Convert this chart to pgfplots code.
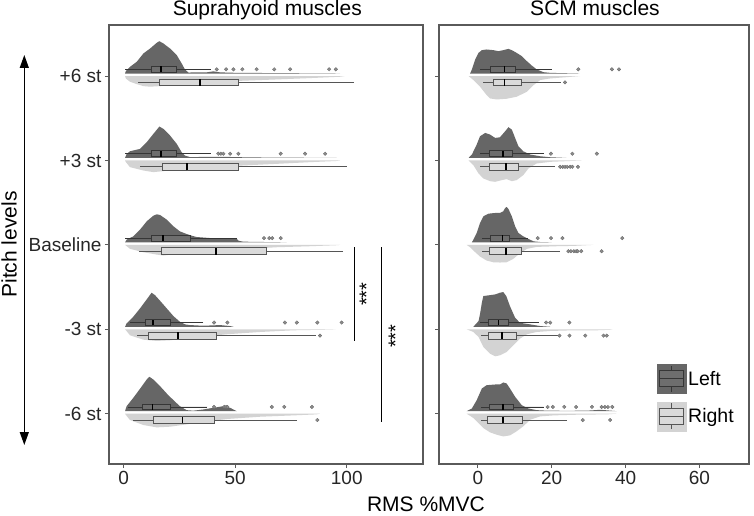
\documentclass[border=0pt]{standalone}
\usepackage{fontspec}
\setmainfont{Liberation Sans}
\usepackage{pgfplots}
\pgfplotsset{compat=1.18}
\usepgfplotslibrary{statistics}
\usetikzlibrary{arrows.meta}

\definecolor{darkv}{HTML}{666666}
\definecolor{lightv}{HTML}{D3D3D3}
\definecolor{boxLfill}{HTML}{6E6E6E}
\definecolor{boxLdraw}{HTML}{363636}
\definecolor{boxRfill}{HTML}{DADADA}
\definecolor{boxRdraw}{HTML}{555555}
\definecolor{outl}{HTML}{8C8C8C}
\definecolor{frame}{HTML}{5A5A5A}

\pgfplotsset{
  dv/.style={fill=darkv, draw=none, forget plot},
  lv/.style={fill=lightv, draw=none, forget plot},
  bL/.style={forget plot, draw=boxLdraw, fill=boxLfill, line width=0.8pt,
    mark=*, mark size=1.8pt, mark options={draw=gray!80!black, fill=outl, line width=0.3pt},
    boxplot/box extend=0.068, boxplot/whisker extend=0,
    boxplot/every median/.style={draw=black, line width=1.8pt}},
  bR/.style={forget plot, draw=boxRdraw, fill=boxRfill, line width=0.8pt,
    mark=*, mark size=1.8pt, mark options={draw=gray!80!black, fill=outl, line width=0.3pt},
    boxplot/box extend=0.082, boxplot/whisker extend=0,
    boxplot/every median/.style={draw=black, line width=1.8pt}},
  common/.style={scale only axis, height=439pt, ymin=0.404, ymax=5.605,
    ytick={1,2,3,4,5},
    axis line style={draw=frame, line width=1.1pt},
    tick style={draw=frame, line width=0.9pt},
    tick align=outside, major tick length=4pt, tick pos=left,
    tick label style={font=\fontsize{19}{21}\selectfont, text=black!85},
    /pgf/number format/assume math mode=true},
}

\begin{document}
\begin{tikzpicture}
\useasboundingbox (-109pt,-51pt) rectangle (645pt,464pt);

% ================= LEFT PANEL: Suprahyoid =================
\begin{axis}[common, width=314pt, at={(0pt,0pt)}, anchor=south west,
  xmin=-6.6, xmax=134.2, xtick={0,50,100},
  yticklabels={-6 st,-3 st,Baseline,+3 st,+6 st}]

% ---- +6 st (y=5)
\addplot[dv] table[y expr=\thisrowno{1}+5.03] {
x h
0.6 0
1.0 0.032
2.8 0.079
5.8 0.138
8.8 0.237
11.8 0.296
14.8 0.364
16.0 0.383
17.8 0.356
20.8 0.296
23.8 0.217
26.0 0.119
27.5 0.047
29.0 0.012
37.2 0.014
40.2 0.026
43.2 0.014
50.7 0.008
64.1 0.006
97.0 0
};
\addplot[lv] table[y expr=5-\thisrowno{1}] {
x h
0.6 0
1.0 0.030
2.8 0.067
5.8 0.095
8.8 0.119
11.8 0.126
16.3 0.119
23.8 0.099
31.2 0.087
38.7 0.071
53.6 0.055
68.6 0.040
83.5 0.024
97.0 0.008
99.0 0
};
% ---- +3 st (y=4)
\addplot[dv] table[y expr=\thisrowno{1}+4.03] {
x h
0.6 0
1.3 0.047
2.8 0.079
7.3 0.107
10.3 0.186
13.3 0.285
16.0 0.372
17.8 0.344
20.8 0.265
23.8 0.166
26.0 0.067
27.5 0.028
29.7 0.010
43.2 0.014
56.6 0.006
95.5 0
};
\addplot[lv] table[y expr=4-\thisrowno{1}] {
x h
0.6 0
1.0 0.020
2.8 0.079
8.8 0.119
13.3 0.138
17.8 0.126
23.8 0.107
38.7 0.079
53.6 0.059
68.6 0.040
83.5 0.020
95.5 0.006
97.0 0
};
% ---- Baseline (y=3)
\addplot[dv] table[y expr=\thisrowno{1}+3.03] {
x h
0.6 0
1.3 0.032
4.3 0.071
7.3 0.150
10.3 0.249
13.3 0.316
14.8 0.332
16.3 0.324
19.3 0.269
22.3 0.190
25.2 0.130
28.2 0.099
30.5 0.079
32.7 0.063
38.7 0.051
50.7 0.043
51.4 0.020
53.6 0.008
73.1 0
};
\addplot[lv] table[y expr=3-\thisrowno{1}] {
x h
0.6 0
1.0 0.008
2.8 0.047
8.8 0.087
14.8 0.115
17.8 0.126
23.8 0.107
38.7 0.075
53.6 0.051
68.6 0.028
83.5 0.016
95.5 0.004
97.0 0
};
% ---- -3 st (y=2)
\addplot[dv] table[y expr=\thisrowno{1}+2.03] {
x h
0.6 0
1.3 0.040
4.3 0.119
7.3 0.217
10.3 0.324
12.5 0.403
14.0 0.375
16.3 0.308
19.3 0.217
22.3 0.126
25.2 0.059
27.5 0.028
29.7 0.020
35.7 0.012
43.2 0.020
47.7 0.008
49.2 0
};
\addplot[lv] table[y expr=2-\thisrowno{1}] {
x h
0.6 0
1.0 0.012
2.8 0.071
8.8 0.123
14.8 0.138
20.8 0.130
31.2 0.099
46.2 0.059
61.1 0.032
76.1 0.012
93.3 0.004
95.0 0
};
% ---- -6 st (y=1)
\addplot[dv] table[y expr=\thisrowno{1}+1.03] {
x h
0.6 0
1.3 0.059
4.3 0.158
7.3 0.265
10.3 0.375
11.5 0.407
13.3 0.375
16.3 0.296
19.3 0.209
22.3 0.130
25.2 0.059
28.2 0.012
31.2 0.006
35.7 0.020
40.2 0.040
44.7 0.059
47.7 0.040
50.7 0
};
\addplot[lv] table[y expr=1-\thisrowno{1}] {
x h
0.6 0
1.0 0.016
2.8 0.075
8.8 0.134
14.8 0.162
20.8 0.154
31.2 0.115
46.2 0.063
61.1 0.036
76.1 0.020
86.5 0.008
88.0 0
};

% ---- boxplots
\addplot[bL, boxplot prepared={draw position=5.08, lower whisker=0.6, lower quartile=12.6, median=16.7, upper quartile=23.8, upper whisker=39}]
  coordinates {(0,41.7) (0,45.9) (0,49.2) (0,53.2) (0,59.6) (0,67.5) (0,74.6) (0,92.1) (0,95.1)};
\addplot[bR, boxplot prepared={draw position=4.925, lower whisker=6.6, lower quartile=15.8, median=34.2, upper quartile=51.4, upper whisker=103.4}]
  coordinates {};
\addplot[bL, boxplot prepared={draw position=4.08, lower whisker=0.6, lower quartile=12.6, median=16.7, upper quartile=23.8, upper whisker=39}]
  coordinates {(0,42.4) (0,43.6) (0,44.7) (0,47.7) (0,51.4) (0,70.4) (0,81.3) (0,90.3)};
\addplot[bR, boxplot prepared={draw position=3.925, lower whisker=7.3, lower quartile=17.5, median=28.5, upper quartile=51.4, upper whisker=100}]
  coordinates {};
\addplot[bL, boxplot prepared={draw position=3.08, lower whisker=0.6, lower quartile=12.6, median=17.5, upper quartile=29.7, upper whisker=50.7}]
  coordinates {(0,62.9) (0,65.3) (0,66.6) (0,70.4)};
\addplot[bR, boxplot prepared={draw position=2.925, lower whisker=7.0, lower quartile=17.0, median=41.4, upper quartile=63.8, upper whisker=98.5}]
  coordinates {};
\addplot[bL, boxplot prepared={draw position=2.08, lower whisker=2.8, lower quartile=9.9, median=13.3, upper quartile=20.8, upper whisker=35.7}]
  coordinates {(0,40.5) (0,46.5) (0,72.3) (0,77.6) (0,86.8) (0,97.7)};
\addplot[bR, boxplot prepared={draw position=1.925, lower whisker=5.8, lower quartile=11.1, median=24.2, upper quartile=41.7, upper whisker=86.2}]
  coordinates {(0,88.0)};
\addplot[bL, boxplot prepared={draw position=1.08, lower whisker=2.1, lower quartile=8.4, median=12.9, upper quartile=20.8, upper whisker=37.5}]
  coordinates {(0,40.5) (0,45.1) (0,45.9) (0,46.5) (0,66.4) (0,72.0) (0,84.4)};
\addplot[bR, boxplot prepared={draw position=0.925, lower whisker=4.0, lower quartile=13.3, median=26.4, upper quartile=40.6, upper whisker=77.6}]
  coordinates {(0,86.8)};

% ---- significance
\addplot[black, line width=0.8pt, forget plot] coordinates {(103.3,2.97) (103.3,1.86)};
\addplot[black, line width=0.8pt, forget plot] coordinates {(115.4,2.97) (115.4,0.898)};
\node[rotate=90, font=\fontsize{20}{20}\selectfont] at (axis cs:108.9,2.416) {***};
\node[rotate=90, font=\fontsize{20}{20}\selectfont] at (axis cs:121.9,1.919) {***};
\end{axis}

% ================= RIGHT PANEL: SCM =================
\begin{axis}[common, width=310pt, at={(330pt,0pt)}, anchor=south west,
  xmin=-10.5, xmax=73.4, xtick={0,20,40,60},
  yticklabels={},
  legend style={at={(0.702,0.228)}, anchor=north west, draw=none, fill=none,
    inner sep=0pt, row sep=8pt, font=\fontsize{19.5}{21}\selectfont,
    /tikz/every even column/.append style={column sep=5pt}},
  legend cell align=left]

% ---- +6 st
\addplot[dv] table[y expr=\thisrowno{1}+5.03] {
x h
-2.1 0
-1.6 0.047
-0.7 0.166
0.2 0.245
1.1 0.277
2.4 0.285
4.2 0.277
5.6 0.265
6.9 0.277
8.3 0.292
9.2 0.277
10.5 0.245
11.9 0.206
13.3 0.146
14.6 0.095
16.0 0.047
17.8 0.016
19.6 0.008
27.5 0
};
\addplot[lv] table[y expr=5-\thisrowno{1}] {
x h
-2.5 0
-1.2 0.047
0.6 0.126
2.4 0.225
3.3 0.265
5.1 0.277
7.8 0.269
10.5 0.245
13.3 0.186
15.1 0.107
16.9 0.047
19.6 0.028
23.2 0.016
27.7 0
};
% ---- +3 st
\addplot[dv] table[y expr=\thisrowno{1}+4.03] {
x h
-2.5 0
-1.6 0.040
-0.3 0.158
0.6 0.257
2.0 0.296
3.3 0.277
4.7 0.237
6.0 0.245
7.4 0.316
8.3 0.364
9.2 0.336
10.1 0.237
11.0 0.138
12.3 0.079
14.2 0.040
16.9 0.020
19.6 0.008
24.0 0
};
\addplot[lv] table[y expr=4-\thisrowno{1}] {
x h
-2.5 0
-1.2 0.055
0.2 0.154
1.5 0.213
3.3 0.245
4.7 0.253
6.5 0.233
7.8 0.221
9.2 0.245
10.5 0.233
12.3 0.174
13.7 0.095
15.9 0.036
19.6 0.016
24.1 0.008
28.1 0
};
% ---- Baseline
\addplot[dv] table[y expr=\thisrowno{1}+3.03] {
x h
-1.6 0
-1.2 0.032
-0.3 0.111
0.6 0.229
1.5 0.308
2.9 0.340
4.7 0.348
6.0 0.348
6.9 0.368
7.4 0.407
7.8 0.419
8.3 0.395
9.2 0.308
10.1 0.190
11.0 0.111
12.3 0.071
13.7 0.040
15.1 0.012
16.9 0.004
20.0 0
};
\addplot[lv] table[y expr=3-\thisrowno{1}] {
x h
-3.0 0
-2.1 0.028
-1.2 0.067
0.6 0.138
2.4 0.186
4.2 0.206
6.0 0.209
7.8 0.206
9.6 0.166
11.4 0.099
13.3 0.047
15.9 0.024
21.4 0.016
25.9 0.012
31.3 0
};
% ---- -3 st
\addplot[dv] table[y expr=\thisrowno{1}+2.03] {
x h
-1.2 0
0.2 0.067
0.6 0.150
1.1 0.285
1.5 0.364
2.9 0.372
4.7 0.383
6.0 0.403
6.9 0.411
7.7 0.364
8.7 0.245
10.1 0.107
11.4 0.047
14.2 0.028
16.9 0.008
19.6 0
};
\addplot[lv] table[y expr=2-\thisrowno{1}] {
x h
-3.0 0
-1.2 0.032
0.2 0.091
1.5 0.209
3.3 0.289
4.7 0.320
6.0 0.308
7.8 0.269
9.6 0.190
11.4 0.111
13.3 0.059
15.9 0.032
19.6 0.020
25.9 0.012
32.2 0.012
35.8 0.006
36.5 0
};
% ---- -6 st
\addplot[dv] table[y expr=\thisrowno{1}+1.03] {
x h
-3.0 0
-1.6 0.032
-0.3 0.130
1.1 0.269
2.4 0.308
4.7 0.316
6.0 0.316
6.9 0.340
7.8 0.328
8.7 0.269
10.1 0.170
11.9 0.071
13.7 0.032
15.9 0.012
18.7 0.006
25.0 0.004
30.4 0.008
33.1 0.016
34.9 0.010
37.6 0
};
\addplot[lv] table[y expr=1-\thisrowno{1}] {
x h
-3.0 0
-1.2 0.051
0.2 0.111
1.5 0.170
3.3 0.221
5.1 0.249
6.9 0.269
8.7 0.257
10.5 0.209
12.3 0.150
14.2 0.071
16.9 0.032
20.5 0.020
26.8 0.012
34.9 0.008
37.6 0
};

% ---- boxplots
\addplot[bL, boxplot prepared={draw position=5.08, lower whisker=0.6, lower quartile=3.5, median=7.2, upper quartile=10.1, upper whisker=20.0}]
  coordinates {(0,27.2) (0,36.3) (0,38.2)};
\addplot[bR, boxplot prepared={draw position=4.925, lower whisker=1.4, lower quartile=4.2, median=7.2, upper quartile=11.7, upper whisker=22.5}]
  coordinates {(0,23.6)};
\addplot[bL, boxplot prepared={draw position=4.08, lower whisker=0.6, lower quartile=3.2, median=6.8, upper quartile=9.4, upper whisker=17.8}]
  coordinates {(0,19.8) (0,25.6) (0,32.2)};
\addplot[bR, boxplot prepared={draw position=3.925, lower whisker=0.6, lower quartile=3.2, median=7.6, upper quartile=11.0, upper whisker=20.9}]
  coordinates {(0,22.3) (0,23.0) (0,23.6) (0,24.2) (0,25.0) (0,25.6) (0,27.1)};
\addplot[bL, boxplot prepared={draw position=3.08, lower whisker=1.1, lower quartile=3.3, median=6.7, upper quartile=8.5, upper whisker=13.7}]
  coordinates {(0,16.2) (0,19.8) (0,22.9) (0,39.1)};
\addplot[bR, boxplot prepared={draw position=2.925, lower whisker=1.1, lower quartile=3.1, median=7.6, upper quartile=11.7, upper whisker=22.3}]
  coordinates {(0,24.5) (0,25.2) (0,26.0) (0,26.6) (0,27.0) (0,28.0) (0,33.5)};
\addplot[bL, boxplot prepared={draw position=2.08, lower whisker=0.6, lower quartile=3.0, median=5.6, upper quartile=8.3, upper whisker=16.5}]
  coordinates {(0,18.5) (0,19.6) (0,24.8)};
\addplot[bR, boxplot prepared={draw position=1.925, lower whisker=0.8, lower quartile=2.9, median=6.5, upper quartile=10.5, upper whisker=21.8}]
  coordinates {(0,22.1) (0,24.8) (0,29.1) (0,34.0) (0,34.9)};
\addplot[bL, boxplot prepared={draw position=1.08, lower whisker=0.8, lower quartile=3.2, median=6.9, upper quartile=9.5, upper whisker=17.8}]
  coordinates {(0,18.9) (0,20.3) (0,23.4) (0,26.6) (0,30.9) (0,33.5) (0,34.4) (0,35.2) (0,36.4)};
\addplot[bR, boxplot prepared={draw position=0.925, lower whisker=0.8, lower quartile=2.7, median=6.8, upper quartile=12.1, upper whisker=24.1}]
  coordinates {(0,28.4) (0,35.8)};

% ---- legend
\addlegendimage{legend image code/.code={
  \fill[darkv] (0pt,-14.5pt) rectangle (29pt,14.5pt);
  \draw[boxLdraw, line width=1pt] (14.5pt,-13pt) -- (14.5pt,13pt);
  \filldraw[fill=boxLfill, draw=boxLdraw, line width=1pt] (2.5pt,-8pt) rectangle (26.5pt,8pt);
  \draw[boxLdraw, line width=1pt] (2.5pt,0pt) -- (26.5pt,0pt);
}}
\addlegendentry{Left}
\addlegendimage{legend image code/.code={
  \fill[lightv] (0pt,-14.5pt) rectangle (29pt,14.5pt);
  \draw[boxRdraw, line width=1pt] (14.5pt,-13pt) -- (14.5pt,13pt);
  \filldraw[fill=boxRfill, draw=boxRdraw, line width=1pt] (2.5pt,-8pt) rectangle (26.5pt,8pt);
  \draw[boxRdraw, line width=1pt] (2.5pt,0pt) -- (26.5pt,0pt);
}}
\addlegendentry{Right}
\end{axis}

% ---- titles and labels
\node[anchor=base, font=\fontsize{21}{24}\selectfont] at (158.3pt,448pt) {Suprahyoid muscles};
\node[anchor=base, font=\fontsize{21}{24}\selectfont] at (486pt,448pt) {SCM muscles};
\node[anchor=base, font=\fontsize{21}{24}\selectfont] at (317pt,-47.7pt) {RMS \%MVC};
\node[anchor=base, rotate=90, font=\fontsize{21}{24}\selectfont] at (-92.3pt,219.5pt) {Pitch levels};
\draw[line width=1.2pt, {Triangle[width=9pt,length=13pt]}-{Triangle[width=9pt,length=13pt]}]
  (-84.7pt,409pt) -- (-84.7pt,19pt);
\end{tikzpicture}
\end{document}
